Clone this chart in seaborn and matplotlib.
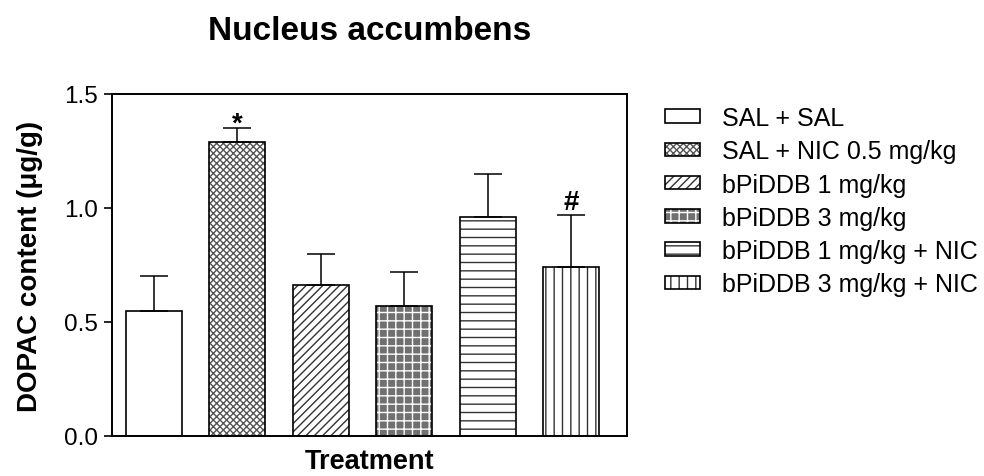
import numpy as np
import matplotlib
matplotlib.use('Agg')
import matplotlib.pyplot as plt
import matplotlib.colors as mcolors
import seaborn as sns

groups = ['SAL + SAL', 'SAL + NIC 0.5 mg/kg', 'bPiDDB 1 mg/kg', 'bPiDDB 3 mg/kg',
          'bPiDDB 1 mg/kg + NIC', 'bPiDDB 3 mg/kg + NIC']
means = [0.55, 1.29, 0.66, 0.57, 0.96, 0.74]
sems = [0.15, 0.06, 0.14, 0.15, 0.19, 0.23]
marks = ['', '*', '', '', '', '#']

hatches = ['', 'xxxxx', '////', '++', '--', '||']
faces = ['white', 'white', 'white', '#707070', 'white', 'white']
hatch_cols = ['black', '#555555', '#333333', 'white', '#333333', '#333333']
mark_offset = {'*': -6, '#': 0}

sns.set_style('ticks')
plt.rcParams['font.family'] = ['Liberation Sans', 'DejaVu Sans']
plt.rcParams['text.color'] = 'black'
plt.rcParams['axes.labelcolor'] = 'black'
plt.rcParams['xtick.color'] = 'black'
plt.rcParams['ytick.color'] = 'black'
plt.rcParams['hatch.linewidth'] = 1.0

fig = plt.figure(figsize=(9.84, 4.77), dpi=100)
ax = fig.add_axes([0.1138, 0.0839, 0.5234, 0.717])

sns.barplot(x=groups, y=means, hue=groups, palette=dict(zip(groups, faces)),
            legend=False, width=0.67, edgecolor='black', linewidth=1.2,
            saturation=1, ax=ax)

for p, h, hc in zip(ax.patches, hatches, hatch_cols):
    p.set_hatch(h)
    p._hatch_color = mcolors.to_rgba(hc)
    p.stale = True

x = np.arange(len(groups))
ax.errorbar(x, means, yerr=[np.zeros(len(sems)), sems], fmt='none',
            ecolor='black', elinewidth=1.1, capsize=10, capthick=1.1, zorder=1)

for xi, m, s, t in zip(x, means, sems, marks):
    if t:
        ax.annotate(t, (xi, m + s), xytext=(0, mark_offset[t]), textcoords='offset points',
                    ha='center', va='bottom', fontsize=20, fontweight='bold')

ax.set_xlim(-0.5, 5.67)
ax.set_ylim(0, 1.5)
ax.set_yticks([0.0, 0.5, 1.0, 1.5])
ax.set_yticklabels(['0.0', '0.5', '1.0', '1.5'], fontsize=17.5)
ax.set_xticks([])
ax.tick_params(axis='y', direction='out', length=6, width=1.2, pad=4)
for sp in ax.spines.values():
    sp.set_linewidth(1.4)
    sp.set_color('black')

ax.set_title('Nucleus accumbens', fontsize=24, fontweight='bold', pad=39.5)
ax.set_xlabel('Treatment', fontsize=19.5, fontweight='bold', labelpad=9)
ax.set_ylabel('DOPAC content (μg/g)', fontsize=20, fontweight='bold', labelpad=15)

ax.legend(handles=ax.patches[:6], labels=groups, loc='upper left',
          bbox_to_anchor=(655 / 984, 1 - 97 / 477), bbox_transform=fig.transFigure,
          borderaxespad=0, frameon=False, fontsize=18, handlelength=1.4,
          handleheight=0.45, handletextpad=0.9, labelspacing=0.37)

fig.savefig('out.png', dpi=100)
